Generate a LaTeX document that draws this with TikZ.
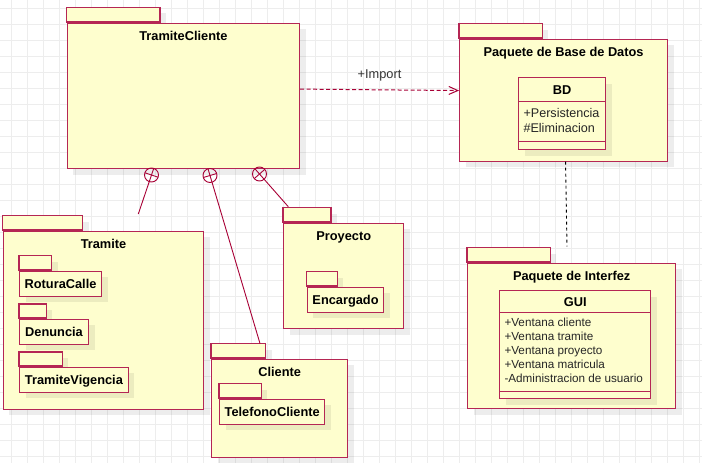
\documentclass[tikz,border=0pt]{standalone}
\usepackage{fontspec}
\setmainfont{Liberation Sans}
\usepackage{tikz}
\usetikzlibrary{arrows.meta, calc, positioning}
\definecolor{umlred}{HTML}{A80036}
\definecolor{umlfill}{HTML}{FEFECE}

\tikzset{
  pkgshadow/.style={preaction={draw=none, fill=black, fill opacity=.07, transform canvas={shift={(6pt,-6pt)}}}},
  pkgtab/.style={pkgshadow, draw=umlred!85, line width=1.1pt, fill=umlfill},
  pkgbody/.style={pkgshadow, draw=umlred!85, line width=1.1pt, fill=umlfill, anchor=north west, inner sep=0pt,
    font=\fontsize{12.8}{15}\selectfont\bfseries, text height=9.3pt, text depth=0pt},
  ttl/.style={anchor=north, inner sep=0pt, yshift=-8.3pt, font=\fontsize{12.8}{15}\selectfont\bfseries, text height=9.3pt, text depth=2.7pt},
  clsbox/.style={pkgshadow, draw=umlred!85, line width=1.1pt, fill=umlfill, anchor=north west, inner sep=0pt},
  clsline/.style={draw=umlred!85, line width=1.1pt},
  attr/.style={anchor=north west, inner sep=0pt, align=left, text=black!85, font=\fontsize{12.6}{15}\selectfont},
  nest/.style={circle, draw=umlred, line width=.9pt, minimum size=14pt, inner sep=0pt},
  nestline/.style={draw=umlred, line width=.9pt},
  bggrid/.style={draw=black!7, line width=1pt}
}

\begin{document}
\begin{tikzpicture}[x=1pt, y=-1pt]
  \useasboundingbox (0,0) rectangle (702,463);
  \fill[white] (0,0) rectangle (702,463);
  % grid
  \foreach \gx in {11.5,27.5,...,699.5} \draw[bggrid] (\gx,0) -- (\gx,463);
  \foreach \gy in {8.5,24.5,...,456.5} \draw[bggrid] (0,\gy) -- (702,\gy);

  % TramiteCliente
  \draw[pkgtab] (66.7,7.3) rectangle ++(93.3,14.7);
  \node[pkgbody, minimum width=232.3pt, minimum height=145.7pt,
        label={[ttl]north:TramiteCliente}] (tc) at (66.7,22.5) {};

  % Paquete de Base de Datos
  \draw[pkgtab] (459,23.7) rectangle ++(83.3,14.3);
  \node[pkgbody, minimum width=208pt, minimum height=122pt,
        label={[ttl]north:Paquete de Base de Datos}] (bdpkg) at (459,38.5) {};
  \node[clsbox, minimum width=87.3pt, minimum height=72pt,
        label={[ttl, yshift=0.7pt]north:BD}] (bd) at (518,77) {};
  \draw[clsline] ([yshift=-24.7pt]bd.north west) -- ([yshift=-24.7pt]bd.north east);
  \draw[clsline] ([yshift=9pt]bd.south west) -- ([yshift=9pt]bd.south east);
  \node[attr] (bdAttr) at ([shift={(5.3pt,-31pt)}]bd.north west) {+Persistencia\\\#Eliminacion};

  % Paquete de Interfez
  \draw[pkgtab] (467,247.7) rectangle ++(83.3,14.3);
  \node[pkgbody, minimum width=208.3pt, minimum height=145.7pt,
        label={[ttl]north:Paquete de Interfez}] (inter) at (467,262.5) {};
  \node[clsbox, minimum width=151pt, minimum height=108.3pt,
        label={[ttl, yshift=1.3pt]north:GUI}] (gui) at (499.3,290) {};
  \draw[clsline] ([yshift=-22.7pt]gui.north west) -- ([yshift=-22.7pt]gui.north east);
  \draw[clsline] ([yshift=8.3pt]gui.south west) -- ([yshift=8.3pt]gui.south east);
  \node[attr, font=\fontsize{11.7}{14}\selectfont] (guiAttr) at ([shift={(5pt,-27.4pt)}]gui.north west)
    {+Ventana cliente\\+Ventana tramite\\+Ventana proyecto\\+Ventana matricula\\-Administracion de usuario};

  % Tramite
  \draw[pkgtab] (2.7,215.7) rectangle ++(80,14.3);
  \node[pkgbody, minimum width=200.6pt, minimum height=178.3pt,
        label={[ttl]north:Tramite}] (tram) at (2.7,230.5) {};
  \draw[pkgtab] (19,255.7) rectangle ++(32.7,14.3);
  \node[pkgbody, minimum width=82pt, minimum height=25pt] (rot) at (19,270.5) {RoturaCalle};
  \draw[pkgtab] (19,304) rectangle ++(27.3,14);
  \node[pkgbody, minimum width=69pt, minimum height=25pt] (den) at (19,318.5) {Denuncia};
  \draw[pkgtab] (19,352) rectangle ++(43.3,14);
  \node[pkgbody, minimum width=108.7pt, minimum height=25pt] (vig) at (19,366.5) {TramiteVigencia};

  % Proyecto
  \draw[pkgtab] (283,207.7) rectangle ++(48,14.3);
  \node[pkgbody, minimum width=120.3pt, minimum height=105.7pt,
        label={[ttl]north:Proyecto}] (proy) at (283,222.5) {};
  \draw[pkgtab] (306.7,271.7) rectangle ++(30.6,14.3);
  \node[pkgbody, minimum width=76.6pt, minimum height=25pt] (enc) at (306.7,286.5) {Encargado};

  % Cliente
  \draw[pkgtab] (211,343.7) rectangle ++(54.7,14.3);
  \node[pkgbody, minimum width=136.3pt, minimum height=98pt,
        label={[ttl]north:Cliente}] (cli) at (211,358.5) {};
  \draw[pkgtab] (219,383.7) rectangle ++(42.3,14.3);
  \node[pkgbody, minimum width=105.3pt, minimum height=25pt] (tel) at (219,398.5) {TelefonoCliente};

  % import and dependency
  \draw[umlred, line width=1pt, dash pattern=on 4pt off 2.5pt, -{Straight Barb[length=9pt, width=8pt]}]
    ([yshift=6.8pt]tc.east) -- node[above=7.7pt, inner sep=0pt, text=black!80, font=\fontsize{12.8}{15}\selectfont]{+Import}
    ([yshift=9.5pt]bdpkg.west);
  \coordinate (interTop) at (567,246.5);
  \draw[black, line width=.9pt, dash pattern=on 3pt off 3pt] ([xshift=2pt]bdpkg.south) -- (interTop);

  % nesting
  \node[nest] (n1) at (151.5,175) {};
  \node[nest] (n2) at (210,175.5) {};
  \node[nest] (n3) at (259.5,174) {};
  \coordinate (e1) at (138.3,214);
  \coordinate (e2) at (260,343.5);
  \coordinate (e3) at (288.3,206.7);
  \foreach \n/\e in {n1/e1, n2/e2, n3/e3} {
    \draw[nestline] ($(\n)!-7pt!(\e)$) -- (\e);
    \draw[nestline] ($(\n)!7pt!90:(\e)$) -- ($(\n)!7pt!-90:(\e)$);
  }
\end{tikzpicture}
\end{document}
